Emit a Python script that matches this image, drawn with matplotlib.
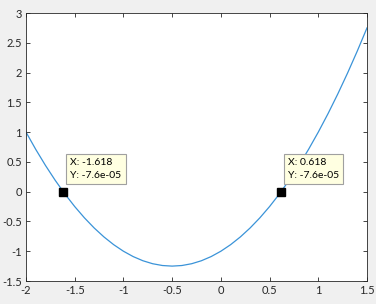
import matplotlib
matplotlib.use("Agg")
import matplotlib.pyplot as plt

plt.rcParams["font.family"] = ["Lato", "DejaVu Sans"]

# curve samples
x_vals = [-2.0, -1.9, -1.8, -1.7, -1.6, -1.5, -1.4, -1.3, -1.2, -1.1,
          -1.0, -0.9, -0.8, -0.7, -0.6, -0.5, -0.4, -0.3, -0.2, -0.1,
          0.0, 0.1, 0.2, 0.3, 0.4, 0.5, 0.6, 0.7, 0.8, 0.9,
          1.0, 1.1, 1.2, 1.3, 1.4, 1.5]
y_vals = [1.0, 0.71, 0.44, 0.19, -0.04, -0.25, -0.44, -0.61, -0.76, -0.89,
          -1.0, -1.09, -1.16, -1.21, -1.24, -1.25, -1.24, -1.21, -1.16, -1.09,
          -1.0, -0.89, -0.76, -0.61, -0.44, -0.25, -0.04, 0.19, 0.44, 0.71,
          1.0, 1.31, 1.64, 1.99, 2.36, 2.75]

tip_x = [-1.618, 0.618]
tip_y = [-7.6e-05, -7.6e-05]
tip_text = ["X: -1.618\nY: -7.6e-05", "X: 0.618\nY: -7.6e-05"]

x_ticks = [-2, -1.5, -1, -0.5, 0, 0.5, 1, 1.5]
x_labels = ["-2", "-1.5", "-1", "-0.5", "0", "0.5", "1", "1.5"]
y_ticks = [-1.5, -1, -0.5, 0, 0.5, 1, 1.5, 2, 2.5, 3]
y_labels = ["-1.5", "-1", "-0.5", "0", "0.5", "1", "1.5", "2", "2.5", "3"]

fig = plt.figure(figsize=(3.76, 3.04), dpi=100, facecolor="#f0f0f0")
ax = fig.add_axes([26 / 376, 23 / 304, 341 / 376, 268 / 304])
ax.set_facecolor("white")

ax.plot(x_vals, y_vals, color="#3a93d8", lw=0.9)
ax.plot(tip_x, tip_y, "s", color="black", ms=5.5, ls="none", zorder=5)

for tx, ty, s in zip(tip_x, tip_y, tip_text):
    ax.annotate(s, xy=(tx, ty), xytext=(7, 12), textcoords="offset pixels",
                ha="left", va="bottom", fontsize=7.5, color="black",
                linespacing=1.55,
                bbox=dict(boxstyle="square,pad=0.4", fc="#ffffe1",
                          ec="#a0a0a0", lw=0.8), zorder=6)

ax.set_xlim(-2, 1.5)
ax.set_ylim(-1.5, 3)
ax.set_xticks(x_ticks, x_labels)
ax.set_yticks(y_ticks, y_labels)
ax.tick_params(direction="in", which="both", top=True, right=True,
               length=3, width=0.6, colors="#262626", labelsize=8, pad=3)
for sp in ax.spines.values():
    sp.set_color("#262626")
    sp.set_linewidth(0.6)

fig.savefig("out.png", dpi=100, facecolor=fig.get_facecolor())
